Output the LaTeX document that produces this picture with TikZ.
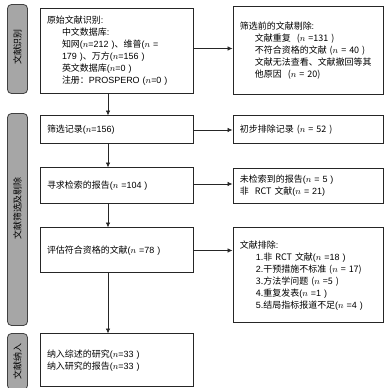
\documentclass[tikz,border=0pt]{standalone}
\usepackage{fontspec}
\setmainfont{Liberation Sans}
\newfontfamily\cjkfont{Noto Sans CJK SC}
\usetikzlibrary{arrows.meta, positioning, fit}

% Chinese characters in Noto Sans CJK, the rest in Liberation Sans
\XeTeXinterchartokenstate=1
\newXeTeXintercharclass\cjkclass
\count255="4E00
\loop\XeTeXcharclass\count255=\cjkclass\advance\count255 by 1
\ifnum\count255<"A000 \repeat
\count255="3000
\loop\XeTeXcharclass\count255=\cjkclass\advance\count255 by 1
\ifnum\count255<"3040 \repeat
\count255="FF00
\loop\XeTeXcharclass\count255=\cjkclass\advance\count255 by 1
\ifnum\count255<"FFF0 \repeat
\XeTeXinterchartoks 0 \cjkclass = {\cjkfont}
\XeTeXinterchartoks 4095 \cjkclass = {\cjkfont}
\XeTeXinterchartoks \cjkclass 0 = {\normalfont}

\begin{document}
\begin{tikzpicture}[
    font=\fontsize{9}{12}\selectfont,
    node distance=22bp and 39bp,
    box/.style={rectangle, draw=black!85, line width=1pt, align=left,
                text width=139bp, inner xsep=7bp, inner ysep=0pt,
                minimum height=#1},
    box/.default=28bp,
    rbox/.style={box=#1, text width=136bp},
    rbox/.default=28bp,
    tab/.style={rectangle, rounded corners=4pt, draw=black!75,
                fill=black!35, line width=0.8pt, inner sep=0pt},
    tablbl/.style={rotate=90, inner sep=0pt},
    arr/.style={-{Latex[length=5pt, width=4.5pt]}, line width=0.7pt, draw=black!85}
]
\useasboundingbox (0,0) rectangle (390bp,-388bp);

\node[box=85bp] (orig) at (116.5bp,-50.5bp)
    {原始文献识别:\\
     \hspace*{15bp}中文数据库:\\
     \hspace*{15bp}知网($n$=212 )、维普($n$ =\\
     \hspace*{15bp}179 )、万方($n$=156 )\\
     \hspace*{15bp}英文数据库($n$=0 )\\
     \hspace*{15bp}注册：PROSPERO ($n$=0 )};
\node[box=28bp, below=22bp of orig]  (screen) {筛选记录($n$=156)};
\node[box=36bp, below=23bp of screen] (query)  {寻求检索的报告($n$ =104 )};
\node[box=45bp, below=23bp of query]  (eval)   {评估符合资格的文献($n$ =78 )};
\node[box=53bp, below=60bp of eval]   (incl)
    {纳入综述的研究($n$=33 )\\纳入研究的报告($n$=33 )};

\node[rbox=88bp, right=39bp of orig] (excl1)
    {筛选前的文献剔除:\\
     \hspace*{15bp}文献重复 \ ($n$ =131 )\\
     \hspace*{15bp}不符合资格的文献 ($n$ = 40 )\\
     \hspace*{15bp}文献无法查看、文献撤回等其\\
     \hspace*{15bp}他原因 \ ($n$ = 20)};
\node[rbox=28bp, right=39bp of screen] (excl2) {初步排除记录 ($n$ = 52 )};
\node[rbox=35bp, right=39bp of query]  (excl3)
    {未检索到的报告($n$ = 5 )\\非 \ RCT 文献($n$ = 21)};
\node[rbox=95bp, anchor=north west] (excl4) at ([xshift=39bp]eval.north east)
    {文献排除:\\
     \hspace*{16bp}1.非 RCT 文献($n$ =18 )\\
     \hspace*{16bp}2.干预措施不标准 ($n$ = 17)\\
     \hspace*{16bp}3.方法学问题 ($n$ =5 )\\
     \hspace*{16bp}4.重复发表($n$ =1 )\\
     \hspace*{16bp}5.结局指标报道不足($n$ =4 )};

% stage tabs
\coordinate (t2a) at (screen.west |- excl4.south);
\node[tab, fit={([xshift=-32bp, yshift=3bp]orig.north west)
                ([xshift=-12bp]orig.south west)}] (tab1) {};
\node[tab, fit={([xshift=-32bp, yshift=2bp]screen.north west)
                ([xshift=-12bp, yshift=-2bp]t2a)}] (tab2) {};
\node[tab, fit={([xshift=-32bp]incl.north west)
                ([xshift=-12bp, yshift=-2bp]incl.south west)}] (tab3) {};
\node[tablbl] (lbl1) at ([yshift=2bp]tab1.center) {文献识别};
\node[tablbl] (lbl2) at ([yshift=11bp]tab2.center) {文献筛选及剔除};
\node[tablbl] (lbl3) at (tab3) {文献纳入};

\draw[arr] ([xshift=-8.5bp]orig.south)   -- ([xshift=-8.5bp]screen.north);
\draw[arr] ([xshift=-8.5bp]screen.south) -- ([xshift=-8.5bp]query.north);
\draw[arr] ([xshift=-8.5bp]query.south)  -- ([xshift=-8.5bp]eval.north);
\draw[arr] ([xshift=-8.5bp]eval.south)   -- ([xshift=-8.5bp]incl.north);

\draw[arr] ([yshift=2bp]orig.east) -- ([yshift=2bp]orig.east -| excl1.west);
\draw[arr] (screen.east) -- (excl2.west);
\draw[arr] ([yshift=2bp]query.east) -- ([yshift=2bp]query.east -| excl3.west);
\draw[arr] (eval.east) -- (eval.east -| excl4.west);
\end{tikzpicture}
\end{document}
